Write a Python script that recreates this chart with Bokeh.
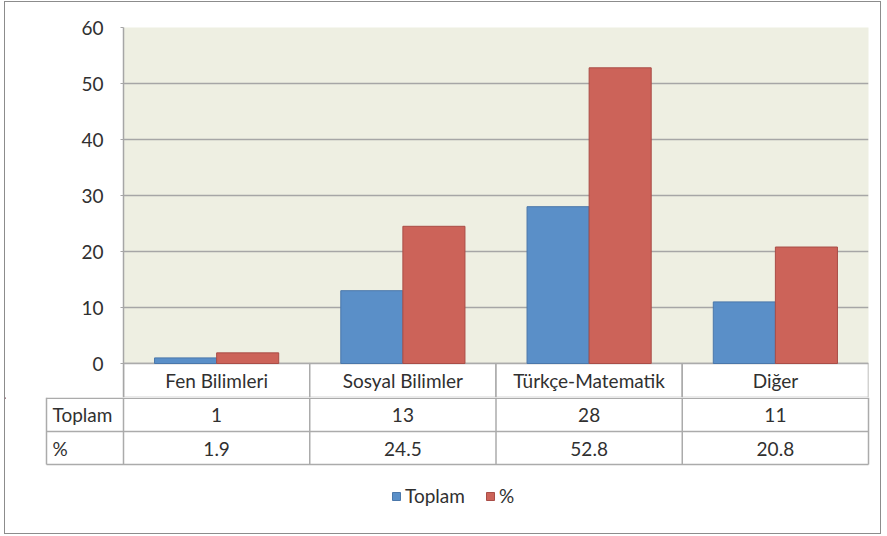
import numpy as np
from bokeh.plotting import figure
from bokeh.models import Range1d, FactorRange, FixedTicker, ColumnDataSource, Legend, LegendItem
from bokeh.transform import dodge
from bokeh.layouts import column
from bokeh.core.properties import value
from bokeh.embed import file_html
from bokeh.resources import INLINE

# ---- data ----
categories = ["Fen Bilimleri", "Sosyal Bilimler", "Türkçe-Matematik", "Diğer"]
toplam = [1, 13, 28, 11]
yuzde = [1.9, 24.5, 52.8, 20.8]
toplam_labels = ["1", "13", "28", "11"]
yuzde_labels = ["1.9", "24.5", "52.8", "20.8"]
row_labels = ["Toplam", "%"]
series_names = ["Toplam", "%"]
y_ticks = [0, 10, 20, 30, 40, 50, 60]

# ---- style ----
FONT = "Lato"
FS = "19px"
TXT = "#303030"
BLUE, BLUE_LINE = "#5a8fc8", "#4a77aa"
RED, RED_LINE = "#cc6359", "#a94d47"
BG = "#eeefe2"
GRID = "#a6a6a6"
TABLE = "#ababab"

W = 875
H = 531
LEFT, RIGHT, TOP = 118, 12, 25
PLOT_H = 336                       # height of the 0..60 area in px
CAT_ROW = 34                       # height of the category row in px
TOP_H = TOP + PLOT_H + CAT_ROW
BOT_H = H - TOP_H
plot_w = W - LEFT - RIGHT
unit = plot_w / len(categories)
y_min = y_ticks[-1] * -CAT_ROW / PLOT_H

# ---- chart ----
p1 = figure(x_range=FactorRange(factors=categories, range_padding=0),
            y_range=Range1d(y_min, y_ticks[-1]), width=W, height=TOP_H,
            min_border_left=LEFT, min_border_right=RIGHT, min_border_top=TOP,
            min_border_bottom=0, x_axis_location=None,
            output_backend="svg", toolbar_location=None)
p1.frame_align = False
src = ColumnDataSource(dict(cat=categories, toplam=toplam, yuzde=yuzde))

# category row of the data table (white cells)
p1.vbar(x="cat", top=0, bottom=y_min, width=1, source=src,
        fill_color="white", line_color=TABLE, line_width=1.5)
p1.text(x="cat", y=y_min / 2, text="cat", source=src, text_font=value(FONT),
        text_font_size=value(FS), text_color=TXT, text_align="center",
        text_baseline="middle")

p1.vbar(x=dodge("cat", -1/6, range=p1.x_range), top="toplam", width=1/3, source=src,
        fill_color=BLUE, line_color=BLUE_LINE, line_width=1)
p1.vbar(x=dodge("cat", 1/6, range=p1.x_range), top="yuzde", width=1/3, source=src,
        fill_color=RED, line_color=RED_LINE, line_width=1)

ax = p1.yaxis[0]
ax.ticker = FixedTicker(ticks=y_ticks)
ax.axis_line_color = GRID
ax.axis_line_width = 1.5
ax.major_tick_line_color = GRID
ax.major_tick_out = 3
ax.major_tick_in = 0
ax.minor_tick_line_color = None
ax.major_label_standoff = 17
ax.major_label_text_font = FONT
ax.major_label_text_font_size = FS
ax.major_label_text_color = TXT
p1.xgrid.visible = False
p1.ygrid.grid_line_color = GRID
p1.ygrid.grid_line_width = 1.5
p1.background_fill_color = BG
p1.border_fill_color = "white"
p1.outline_line_color = None

# ---- rest of data table + legend ----
left_col = -(LEFT - 41) / unit
n = len(categories)
p2 = figure(x_range=Range1d(-LEFT / unit, n + RIGHT / unit),
            y_range=Range1d(BOT_H, 0), width=W, height=BOT_H, min_border=0,
            x_axis_location=None, y_axis_location=None,
            output_backend="svg", toolbar_location=None)
p2.frame_align = False
p2.grid.visible = False
p2.outline_line_color = None
p2.background_fill_color = "white"
p2.border_fill_color = "white"

rows = [0.75, 34, 67]
p2.segment(x0=[left_col] * 3, x1=[n] * 3, y0=rows, y1=rows,
           line_color=TABLE, line_width=1.5)
p2.segment(x0=list(range(n + 1)) + [left_col], x1=list(range(n + 1)) + [left_col],
           y0=[0] * (n + 2), y1=[rows[2]] * (n + 2),
           line_color=TABLE, line_width=1.5)

centers = np.arange(n) + 0.5
tk = dict(text_font=value(FONT), text_font_size=value(FS), text_color=TXT,
          text_baseline="middle")
p2.text(x=centers, y=[17] * n, text=toplam_labels, text_align="center", **tk)
p2.text(x=centers, y=[51] * n, text=yuzde_labels, text_align="center", **tk)
p2.text(x=[left_col + 6 / unit] * 2, y=[17, 51], text=row_labels, text_align="left", **tk)

r1 = p2.vbar(x=[-50], top=[1], width=0.1, fill_color=BLUE, line_color=BLUE_LINE)
r2 = p2.vbar(x=[-50], top=[1], width=0.1, fill_color=RED, line_color=RED_LINE)
for r, name, xloc in [(r1, series_names[0], 386), (r2, series_names[1], 480)]:
    leg = Legend(items=[LegendItem(label=name, renderers=[r])], location=(xloc, 26),
                 glyph_width=10, glyph_height=10, label_standoff=4, padding=0, margin=0,
                 border_line_color=None, background_fill_alpha=0,
                 label_text_font=FONT, label_text_font_size=FS, label_text_color=TXT)
    p2.add_layout(leg)

layout = column(p1, p2, spacing=0,
                styles={"border": "1px solid #8c8c8c", "margin": "1px 0 0 4px"})
open("out.html", "w").write(file_html(layout, INLINE))
